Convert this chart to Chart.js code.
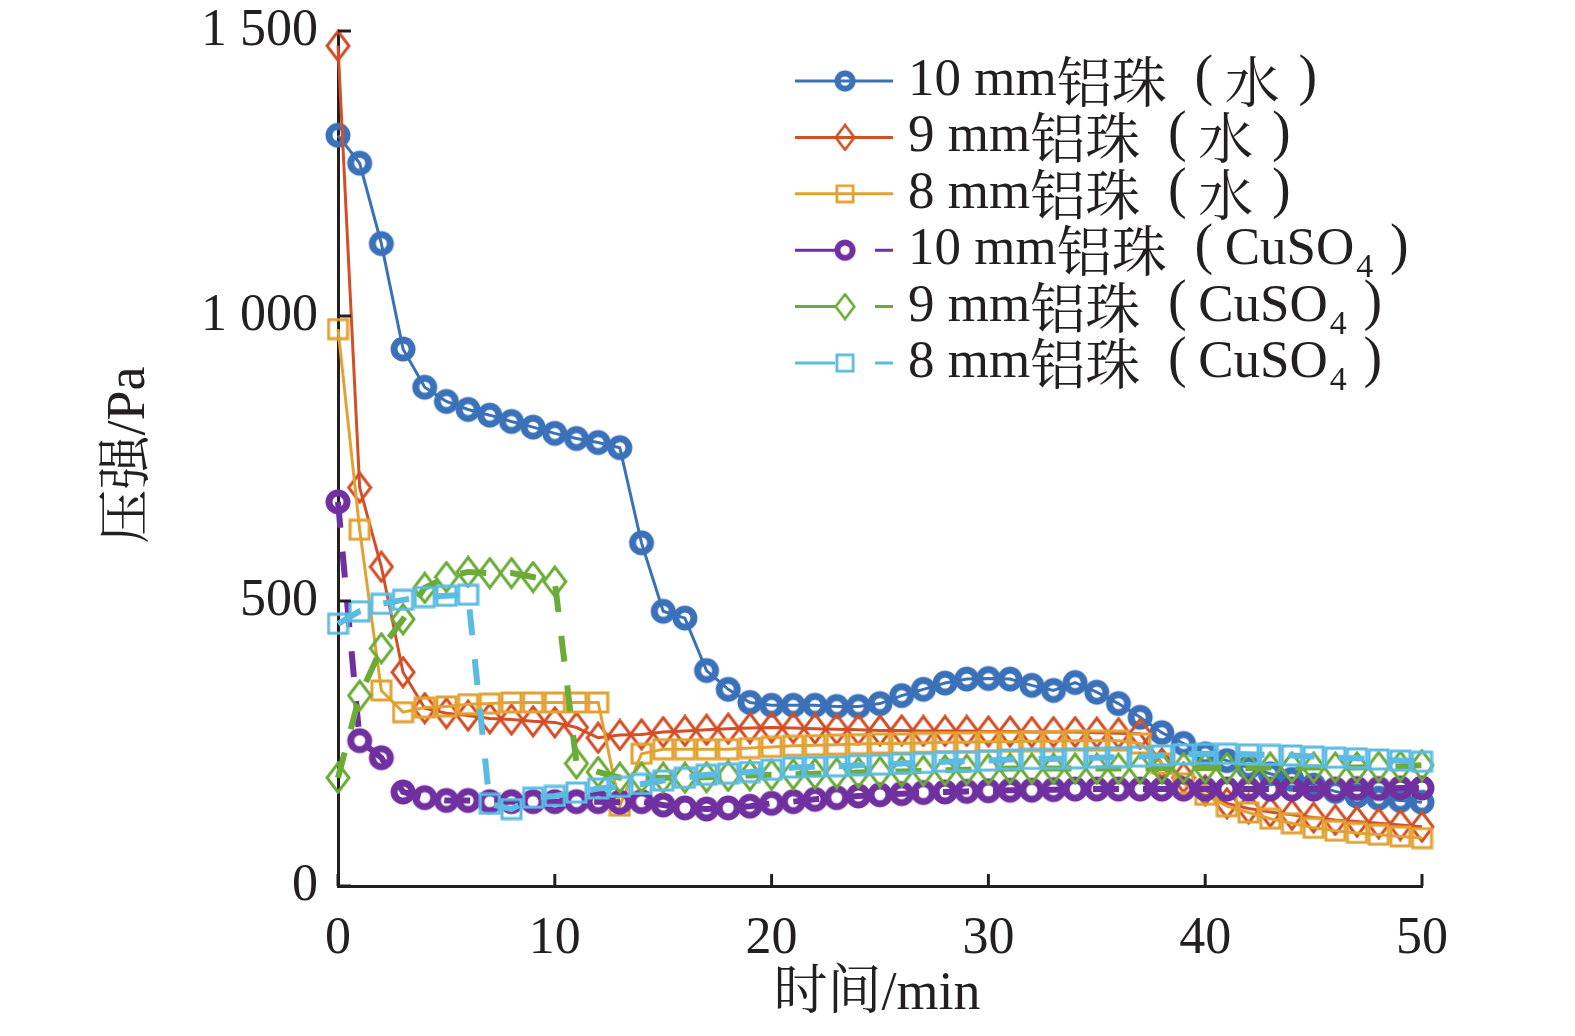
<!DOCTYPE html>
<html>
<head>
<meta charset="utf-8">
<script src="https://cdn.jsdelivr.net/npm/chart.js@4.4.1/dist/chart.umd.min.js"></script>
<style>
  html, body { margin: 0; padding: 0; background: #fff; }
  #wrap { width: 1575px; height: 1036px; position: relative; }
</style>
</head>
<body>
<div id="wrap"><canvas id="myChart"></canvas></div>
<script>
// time in minutes, one reading per minute
let minutes = [];
for (let t = 0; t <= 50; t++) minutes.push(t);

let sizes = ['10 mm', '9 mm', '8 mm', '10 mm', '9 mm', '8 mm'];
let media = ['水', '水', '水', 'CuSO4', 'CuSO4', 'CuSO4'];

let al10Water = [1317,1268,1127,942,875,850,836,826,815,805,794,785,778,769,602,482,470,378,345,322,
                 317,317,317,315,315,320,334,345,356,363,364,363,352,343,357,340,320,296,269,250,
                 232,220,208,197,187,177,166,158,154,150,147];
let al9Water  = [1474,699,560,375,312,303,299,294,292,289,287,278,260,265,266,270,272,274,276,277,
                 278,277,276,275,274,273,273,272,272,272,271,271,270,270,270,269,268,267,215,190,
                 168,145,136,130,125,120,116,113,110,107,104];
let al8Water  = [977,625,343,305,313,315,319,320,322,322,322,322,322,141,232,240,240,240,240,242,
                 244,246,247,248,249,250,250,251,252,252,253,253,254,254,255,255,255,250,215,180,
                 160,140,129,118,110,102,97,93,90,87,84];
let al10Cu    = [674,255,225,165,155,150,150,148,148,148,148,148,148,147,148,142,137,135,137,140,
                 145,148,152,155,158,160,162,164,165,166,167,168,168,169,170,170,170,170,170,170,
                 170,170,170,170,170,170,170,171,171,172,172];
let al9Cu     = [190,334,417,468,523,542,551,549,549,542,534,215,200,190,190,190,190,191,193,194,
                 195,196,197,198,199,200,201,202,203,204,205,206,206,206,206,206,206,206,207,207,
                 207,207,207,208,208,208,208,208,209,210,212];
let al8Cu     = [460,482,495,502,507,509,511,144,135,155,158,164,171,174,179,185,190,195,197,200,
                 204,208,209,210,212,213,215,216,218,219,220,222,223,223,224,225,226,227,229,231,
                 232,232,231,230,229,227,225,224,222,220,218];

let yTicks = [0, 500, 1000, 1500];
let xTicks = [0, 10, 20, 30, 40, 50];

let colors = ['#3b71b9', '#d24f27', '#e2a233', '#7030a0', '#6bab38', '#5cbbe3'];
let shapes = ['circle', 'diamond', 'square', 'circle', 'diamond', 'square'];
let seriesList = [al10Water, al9Water, al8Water, al10Cu, al9Cu, al8Cu];

const SERIF = "'Liberation Serif', 'Times New Roman', serif";
const CJK = "'Noto Serif CJK SC', 'Noto Sans CJK SC', serif";

// hollow marker images, drawn once per colour
function makeMarker(shape, color) {
  const c = document.createElement('canvas');
  let w, h;
  if (shape === 'circle') { w = 28; h = 28; }
  else if (shape === 'diamond') { w = 26; h = 33; }
  else { w = 23; h = 23; }
  c.width = w; c.height = h;
  const g = c.getContext('2d');
  g.strokeStyle = color;
  g.beginPath();
  if (shape === 'circle') {
    g.lineWidth = 7;
    g.arc(w / 2, h / 2, 9, 0, Math.PI * 2);
  } else if (shape === 'diamond') {
    g.lineWidth = 3;
    g.moveTo(w / 2, 2); g.lineTo(w - 2, h / 2); g.lineTo(w / 2, h - 2); g.lineTo(2, h / 2); g.closePath();
  } else {
    g.lineWidth = 3;
    g.rect(2, 2, w - 4, h - 4);
  }
  g.stroke();
  return c;
}
let markers = shapes.map(function (s, i) { return makeMarker(s, colors[i]); });

let datasets = seriesList.map(function (vals, i) {
  let cu = i >= 3;
  return {
    label: sizes[i] + '铝珠（' + media[i] + '）',
    data: vals.map(function (v, k) { return { x: minutes[k], y: v }; }),
    borderColor: colors[i],
    backgroundColor: 'rgba(0,0,0,0)',
    borderWidth: cu ? 6 : 3,
    borderDash: cu ? [26, 24] : [],
    pointStyle: markers[i],
    pointRadius: 14,
    tension: 0,
    clip: false,
    order: 6 - i
  };
});

// inward tick marks, axis titles and the in-plot legend
const decor = {
  id: 'decor',
  afterDraw(chart) {
    const ctx = chart.ctx;
    const xs = chart.scales.x, ys = chart.scales.y;
    const area = chart.chartArea;
    ctx.save();
    ctx.strokeStyle = '#231f20';
    ctx.lineWidth = 3;
    xTicks.forEach(function (v) {
      const px = xs.getPixelForValue(v);
      ctx.beginPath(); ctx.moveTo(px, area.bottom); ctx.lineTo(px, area.bottom - 12); ctx.stroke();
    });
    yTicks.forEach(function (v) {
      const py = ys.getPixelForValue(v);
      ctx.beginPath(); ctx.moveTo(area.left, py); ctx.lineTo(area.left + 13, py); ctx.stroke();
    });

    // axis titles
    ctx.fillStyle = '#231f20';
    ctx.font = '54px ' + SERIF + ', ' + CJK;
    ctx.textAlign = 'center';
    ctx.textBaseline = 'middle';
    ctx.fillText('时间/min', 877, 995);
    ctx.save();
    ctx.translate(130, 455);
    ctx.rotate(-Math.PI / 2);
    ctx.fillText('压强/Pa', 0, 0);
    ctx.restore();

    // legend
    const x0 = 795, x1 = 893, xm = 845, tx = 908;
    sizes.forEach(function (sz, i) {
      const y = 81 + i * 56.4;
      const cu = i >= 3;
      ctx.strokeStyle = colors[i];
      ctx.lineWidth = 3;
      ctx.setLineDash([]);
      ctx.beginPath();
      if (cu) {
        ctx.moveTo(x0, y); ctx.lineTo(xm - 10, y);
        ctx.moveTo(875, y); ctx.lineTo(x1, y);
      } else {
        ctx.moveTo(x0, y); ctx.lineTo(x1, y);
      }
      ctx.stroke();
      const m = markers[i];
      const k = shapes[i] === 'circle' ? 0.85 : 0.85;
      ctx.drawImage(m, xm - m.width * k / 2, y - m.height * k / 2, m.width * k, m.height * k);

      ctx.fillStyle = '#231f20';
      ctx.textAlign = 'left';
      ctx.textBaseline = 'middle';
      ctx.font = '53px ' + SERIF;
      ctx.fillText(sz, tx, y);
      let px = tx + ctx.measureText(sz).width;
      ctx.font = '55px ' + CJK;
      ctx.fillText('铝珠', px, y);
      px += ctx.measureText('铝珠').width;
      ctx.font = '56px ' + SERIF;
      ctx.textAlign = 'center';
      ctx.fillText('(', px + 37, y - 2);
      ctx.textAlign = 'left';
      let inner = px + 58;
      if (media[i] === '水') {
        ctx.font = '55px ' + CJK;
        ctx.fillText('水', inner, y);
        inner += ctx.measureText('水').width + 28;
      } else {
        ctx.font = '53px ' + SERIF;
        ctx.fillText('CuSO', inner, y);
        inner += ctx.measureText('CuSO').width + 2;
        ctx.font = '34px ' + SERIF;
        ctx.fillText('4', inner, y + 18);
        inner += ctx.measureText('4').width + 26;
      }
      ctx.font = '56px ' + SERIF;
      ctx.textAlign = 'center';
      ctx.fillText(')', inner, y - 2);
    });
    ctx.restore();
  }
};

let myChart = document.getElementById('myChart').getContext('2d');

let chart = new Chart(myChart, {
  type: 'line',
  data: { datasets: datasets },
  options: {
    responsive: true,
    maintainAspectRatio: false,
    devicePixelRatio: 1,
    animation: false,
    layout: { padding: { top: 31, right: 153, bottom: 0, left: 0 } },
    plugins: { legend: { display: false }, tooltip: { enabled: false } },
    scales: {
      x: {
        type: 'linear',
        min: 0, max: 50,
        afterFit: function (s) { s.height = 150; s.paddingLeft = 0; s.paddingRight = 0; },
        afterBuildTicks: function (s) { s.ticks = xTicks.map(function (v) { return { value: v }; }); },
        grid: { display: true, drawOnChartArea: false, drawTicks: false },
        border: { display: true, color: '#231f20', width: 3 },
        ticks: { color: '#231f20', padding: 22, maxRotation: 0, font: { family: SERIF, size: 52 } }
      },
      y: {
        min: 0, max: 1500,
        afterFit: function (s) { s.width = 338; s.paddingTop = 0; s.paddingBottom = 0; },
        afterBuildTicks: function (s) { s.ticks = yTicks.map(function (v) { return { value: v }; }); },
        grid: { display: true, drawOnChartArea: false, drawTicks: false },
        border: { display: true, color: '#231f20', width: 3 },
        ticks: {
          color: '#231f20', padding: 20, font: { family: SERIF, size: 52 },
          callback: function (v) { return v >= 1000 ? Math.floor(v / 1000) + ' ' + String(v % 1000).padStart(3, '0') : String(v); }
        }
      }
    }
  },
  plugins: [decor]
});
</script>
</body>
</html>
